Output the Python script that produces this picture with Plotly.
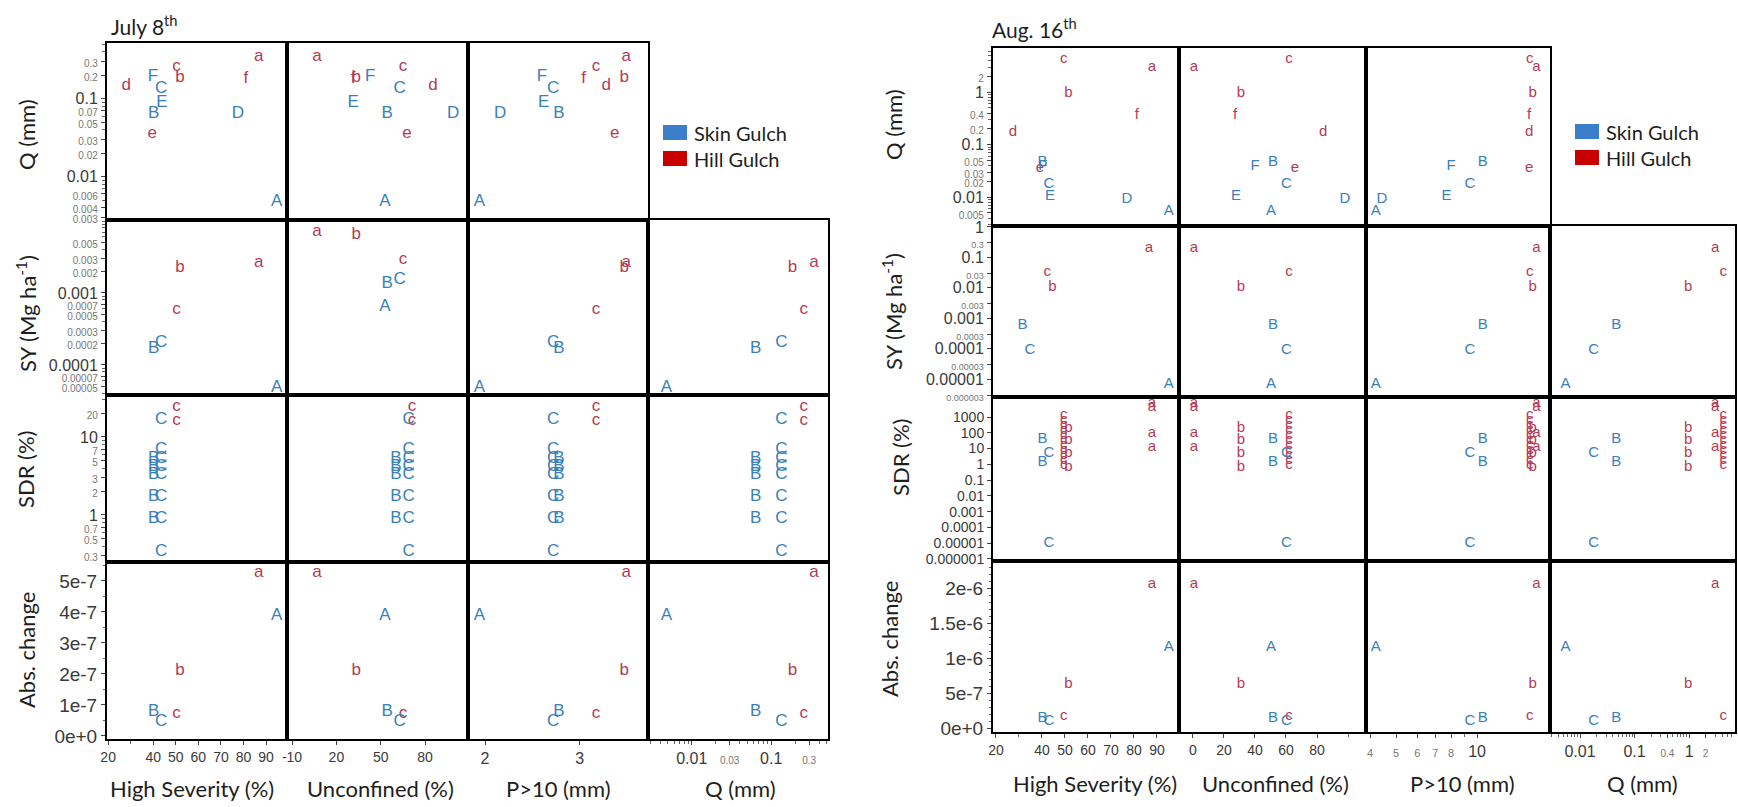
import math
import plotly.graph_objects as go

W, H = 1738, 807

# ---------------- July 8th ----------------
JUL_SITES = ["A", "B", "C", "D", "E", "F", "a", "b", "c", "d", "e", "f"]
JUL_HS = [94.7, 40.2, 43.5, 77.5, 43.9, 39.9, 86.8, 51.9, 50.3, 28.0, 39.5, 81.1]
JUL_UNC = [52.9, 54.3, 62.8, 98.9, 31.3, 42.8, 6.9, 33.5, 65.1, 85.4, 67.8, 31.3]
JUL_P10 = [1.94, 2.78, 2.72, 2.16, 2.62, 2.60, 3.49, 3.47, 3.17, 3.28, 3.37, 3.04]
JUL_Q = [0.0048, 0.064, 0.134, 0.064, 0.089, 0.191, 0.345, 0.186, 0.257, 0.147, 0.0356, 0.180]

JUL_SY_SITES = ["A", "B", "C", "a", "b", "c"]
JUL_SY = [0.000048, 0.000167, 0.000202, 0.00261, 0.00222, 0.00058]
JUL_ABS = [3.87e-7, 0.77e-7, 0.45e-7, 5.26e-7, 2.10e-7, 0.71e-7]

JUL_SDR_SITES = ["B"] * 5 + ["C"] * 8 + ["c"] * 2
JUL_SDR = [5.2, 4.1, 3.3, 1.7, 0.89,
           16.5, 6.8, 5.2, 4.1, 3.3, 1.7, 0.89, 0.336,
           24.2, 16.0]

# ---------------- August 16th ----------------
AUG_SITES = ["A", "B", "C", "D", "E", "F", "a", "b", "c", "d", "e", "f"]
AUG_HS = [95.2, 40.2, 43.0, 77.0, 43.5, 40.4, 87.8, 51.5, 49.5, 27.4, 39.1, 81.3]
AUG_UNC = [50.4, 51.6, 60.3, 98.0, 27.7, 40.0, 0.6, 31.0, 62.0, 83.9, 65.8, 27.1]
AUG_P10 = [4.2, 10.5, 9.4, 4.43, 7.7, 8.0, 16.6, 16.1, 15.7, 15.6, 15.6, 15.6]
AUG_Q = [0.0054, 0.046, 0.0177, 0.0091, 0.0105, 0.039, 3.0, 0.96, 4.2, 0.17, 0.036, 0.37]

AUG_SY_SITES = ["A", "B", "C", "a", "b", "c"]
AUG_SY = [0.00000686, 0.000589, 0.0000893, 0.197, 0.0104, 0.0322]
AUG_ABS = [1.16e-6, 0.14e-6, 0.10e-6, 2.06e-6, 0.63e-6, 0.17e-6]

AUG_SDR_SITES = ["B"] * 2 + ["C"] * 2 + ["a"] * 4 + ["b"] * 4 + ["c"] * 11
AUG_SDR = [39.7, 1.36,
           5.1, 9.4e-6,
           7800, 4340, 95.7, 12.3,
           200, 34, 5.1, 0.65,
           1340, 644, 309, 149, 71, 34, 16.5, 7.9, 3.8, 1.8, 0.88]

ROW_VARS = ["Q", "SY", "SDR", "ABS"]
COL_VARS = ["HS", "UNC", "P10", "Q"]
ROW_TITLES = ["Q (mm)", "SY (Mg ha<sup>-1</sup>)", "SDR (%)", "Abs. change"]
COL_TITLES = ["High Severity (%)", "Unconfined (%)", "P>10 (mm)", "Q (mm)"]

# styling
BLUE = "#3a80b9"
RED = "#b53a55"
INK = "#1e1e1e"
TICK_INK = "#3a3a3a"
TICK_SOFT = "#777777"
LABEL_FONT = "Lato"
TICK_FONT = "Liberation Sans"


def num(v):
    return f"{v:.10f}".rstrip("0").rstrip(".")


def same(a, b):
    return abs(a / b - 1) < 1e-6 if b else a == b


def log_ticks(big, small, small_px):
    vals = sorted(big + small)
    text = []
    for v in vals:
        t = num(v)
        if any(same(v, s) for s in small):
            t = f"<span style='font-size:{small_px}px;color:{TICK_SOFT}'>{t}</span>"
        text.append(t)
    return vals, text


def log_minor(rng, labelled):
    lo, hi = rng
    out = []
    for k in range(int(math.floor(lo)) - 1, int(math.ceil(hi)) + 1):
        for n in range(1, 10):
            v = n * 10.0 ** k
            if lo <= math.log10(v) <= hi and not any(same(v, e) for e in labelled):
                out.append(v)
    return out


def log_spec(rng, big, small, size, small_px, minor=True):
    vals, text = log_ticks(big, small, small_px)
    return dict(type="log", range=rng, tickvals=vals, ticktext=text, size=size,
                minor=log_minor(rng, vals) if minor else None)


def lin_spec(rng, vals, text, size, minor_dtick=None, minor=None):
    return dict(type="linear", range=rng, tickvals=vals, ticktext=text, size=size,
                minor_dtick=minor_dtick, minor=minor)


JUL_Y = {
    "Q": log_spec([-2.557, -0.283], [0.1, 0.01],
                  [0.3, 0.2, 0.07, 0.05, 0.03, 0.02, 0.006, 0.004, 0.003], 16, 10),
    "SY": log_spec([-4.417, -1.986], [0.001, 0.0001],
                   [0.005, 0.003, 0.002, 0.0007, 0.0005, 0.0003, 0.0002, 0.00007, 0.00005], 16, 10),
    "SDR": log_spec([-0.603, 1.538], [10, 1], [20, 7, 5, 3, 2, 0.7, 0.5, 0.3], 16, 10),
    "ABS": lin_spec([-0.1e-7, 5.61e-7], [0, 1e-7, 2e-7, 3e-7, 4e-7, 5e-7],
                    ["0e+0", "1e-7", "2e-7", "3e-7", "4e-7", "5e-7"], 19, minor_dtick=0.5e-7),
}
JUL_X = {
    "HS": lin_spec([19.5, 99.3], [20, 40, 50, 60, 70, 80, 90],
                   ["20", "40", "50", "60", "70", "80", "90"], 14, minor=[30]),
    "UNC": lin_spec([-13.4, 109.0], [-10, 20, 50, 80], ["-10", "20", "50", "80"], 14),
    "P10": lin_spec([1.82, 3.72], [2, 3], ["2", "3"], 16),
    "Q": log_spec([-2.55, -0.285], [0.01, 0.1], [0.03, 0.3], 16, 10),
}
AUG_Y = {
    "Q": log_spec([-2.55, 0.84], [1, 0.1, 0.01],
                  [2, 0.4, 0.2, 0.05, 0.03, 0.02, 0.005], 16, 10),
    "SY": log_spec([-5.58, 0.03], [1, 0.1, 0.01, 0.001, 0.0001, 0.00001],
                   [0.3, 0.03, 0.003, 0.0003, 0.00003, 0.000003], 16, 9, minor=False),
    "SDR": log_spec([-6.13, 4.27],
                    [1000, 100, 10, 1, 0.1, 0.01, 0.001, 0.0001, 0.00001, 0.000001], [],
                    14, 9, minor=False),
    "ABS": lin_spec([-0.057e-6, 2.386e-6], [0, 5e-7, 1e-6, 1.5e-6, 2e-6],
                    ["0e+0", "5e-7", "1e-6", "1.5e-6", "2e-6"], 19, minor_dtick=1e-7),
}
AUG_X = {
    "HS": lin_spec([18.7, 99.6], [20, 40, 50, 60, 70, 80, 90],
                   ["20", "40", "50", "60", "70", "80", "90"], 14, minor=[30]),
    "UNC": lin_spec([-9.0, 111.6], [0, 20, 40, 60, 80],
                    ["0", "20", "40", "60", "80"], 14, minor=[100]),
    "P10": log_spec([0.587, 1.271], [10], [4, 5, 6, 7, 8], 16, 11),
    "Q": log_spec([-2.55, 0.84], [0.01, 0.1, 1], [0.4, 2], 16, 10),
}

# panel edges (pixels) of the two matrices
JUL_XE = [107, 287, 468, 648, 828]
JUL_YE = [43, 220, 395, 562, 739]
AUG_XE = [993, 1179, 1366, 1550, 1735]
AUG_YE = [48, 226, 397, 561, 732]

SIDES = [
    dict(name="JUL", xe=JUL_XE, ye=JUL_YE, xspec=JUL_X, yspec=JUL_Y, letter=17,
         cols={"HS": dict(zip(JUL_SITES, JUL_HS)), "UNC": dict(zip(JUL_SITES, JUL_UNC)),
               "P10": dict(zip(JUL_SITES, JUL_P10)), "Q": dict(zip(JUL_SITES, JUL_Q))},
         rows={"Q": (JUL_SITES, JUL_Q), "SY": (JUL_SY_SITES, JUL_SY),
               "SDR": (JUL_SDR_SITES, JUL_SDR), "ABS": (JUL_SY_SITES, JUL_ABS)},
         overrides={(1, 1): dict(y=[-6.357, -2.306]), (2, 1): dict(x=[-19.4, 103.0])}),
    dict(name="AUG", xe=AUG_XE, ye=AUG_YE, xspec=AUG_X, yspec=AUG_Y, letter=15,
         cols={"HS": dict(zip(AUG_SITES, AUG_HS)), "UNC": dict(zip(AUG_SITES, AUG_UNC)),
               "P10": dict(zip(AUG_SITES, AUG_P10)), "Q": dict(zip(AUG_SITES, AUG_Q))},
         rows={"Q": (AUG_SITES, AUG_Q), "SY": (AUG_SY_SITES, AUG_SY),
               "SDR": (AUG_SDR_SITES, AUG_SDR), "ABS": (AUG_SY_SITES, AUG_ABS)},
         overrides={(1, 0): dict(x=[29.1, 99.1])}),
]


def axis_layout(spec, domain, show, rng, anchor):
    ax = dict(
        domain=domain, anchor=anchor, type=spec["type"], range=rng,
        showline=True, mirror=True, linecolor="black", linewidth=2,
        showgrid=False, zeroline=False, fixedrange=True,
        showticklabels=show, ticks="outside" if show else "",
        ticklen=4, tickwidth=1, tickcolor="#444444", tickangle=0,
        tickmode="array", tickvals=spec["tickvals"], ticktext=spec["ticktext"],
        tickfont=dict(family=TICK_FONT, size=spec["size"], color=TICK_INK),
    )
    if show:
        if spec.get("minor"):
            ax["minor"] = dict(tickmode="array", tickvals=spec["minor"], ticks="outside",
                               ticklen=3, tickwidth=1, tickcolor="#666666")
        elif spec.get("minor_dtick"):
            ax["minor"] = dict(dtick=spec["minor_dtick"], ticks="outside",
                               ticklen=2, tickwidth=1, tickcolor="#666666")
    return ax


fig = go.Figure()
layout = dict(width=W, height=H, margin=dict(l=0, r=0, t=0, b=0), autosize=False,
              paper_bgcolor="white", plot_bgcolor="white", showlegend=False,
              template="none")

n = 0
for side in SIDES:
    xe, ye = side["xe"], side["ye"]
    for r, rv in enumerate(ROW_VARS):
        sites, yvals = side["rows"][rv]
        for c, cv in enumerate(COL_VARS):
            if r == 0 and c == 3:
                continue
            n += 1
            xs = "" if n == 1 else str(n)
            xspec, yspec = side["xspec"][cv], side["yspec"][rv]
            ov = side["overrides"].get((r, c), {})
            xdom = [xe[c] / W, xe[c + 1] / W]
            ydom = [1 - ye[r + 1] / H, 1 - ye[r] / H]
            layout["xaxis" + xs] = axis_layout(xspec, xdom, r == 3,
                                               ov.get("x", xspec["range"]), "y" + xs)
            layout["yaxis" + xs] = axis_layout(yspec, ydom, c == 0,
                                               ov.get("y", yspec["range"]), "x" + xs)
            lookup = side["cols"][cv]
            for upper, color in ((False, RED), (True, BLUE)):
                pts = [(lookup[s], v, s) for s, v in zip(sites, yvals) if s.isupper() == upper]
                fig.add_trace(go.Scatter(
                    x=[p[0] for p in pts], y=[p[1] for p in pts], text=[p[2] for p in pts],
                    mode="text", textposition="middle center", cliponaxis=False,
                    textfont=dict(family=TICK_FONT, size=side["letter"], color=color),
                    hoverinfo="skip", xaxis="x" + xs, yaxis="y" + xs,
                ))

ann = []
shapes = []


def label(text, x, y, size, angle=0, anchor="center", color=INK):
    ann.append(dict(text=text, x=x / W, y=1 - y / H, xref="paper", yref="paper",
                    showarrow=False, textangle=angle, xanchor=anchor, yanchor="middle",
                    font=dict(family=LABEL_FONT, size=size, color=color)))


# panel titles
label("July 8<sup>th</sup>", 109, 25, 21, anchor="left")
label("Aug. 16<sup>th</sup>", 990, 28, 21, anchor="left")

# row titles
for t, y in zip(ROW_TITLES, [135, 314, 470, 650]):
    label(t, 26, y, 22, angle=-90)
for t, x, y in zip(ROW_TITLES, [893, 892, 900, 889], [125, 312, 458, 639]):
    label(t, x, y, 22, angle=-90)

# column titles
for t, x in zip(COL_TITLES, [192, 380, 558, 740]):
    label(t, x, 788, 22)
for t, x in zip(COL_TITLES, [1095, 1275, 1462, 1642]):
    label(t, x, 783, 22)

# legends
for x0, y0 in ((663, 125), (1575, 124)):
    for i, (name, col) in enumerate((("Skin Gulch", "#3b7fcc"), ("Hill Gulch", "#c80000"))):
        top = y0 + i * 26
        shapes.append(dict(type="rect", xref="paper", yref="paper",
                           x0=x0 / W, x1=(x0 + 24) / W, y0=1 - (top + 15) / H, y1=1 - top / H,
                           fillcolor=col, line=dict(width=0)))
        label(name, x0 + 29, top + 8, 20, anchor="left")

layout["annotations"] = ann
layout["shapes"] = shapes
fig.update_layout(**layout)
fig.write_html("out.html")
